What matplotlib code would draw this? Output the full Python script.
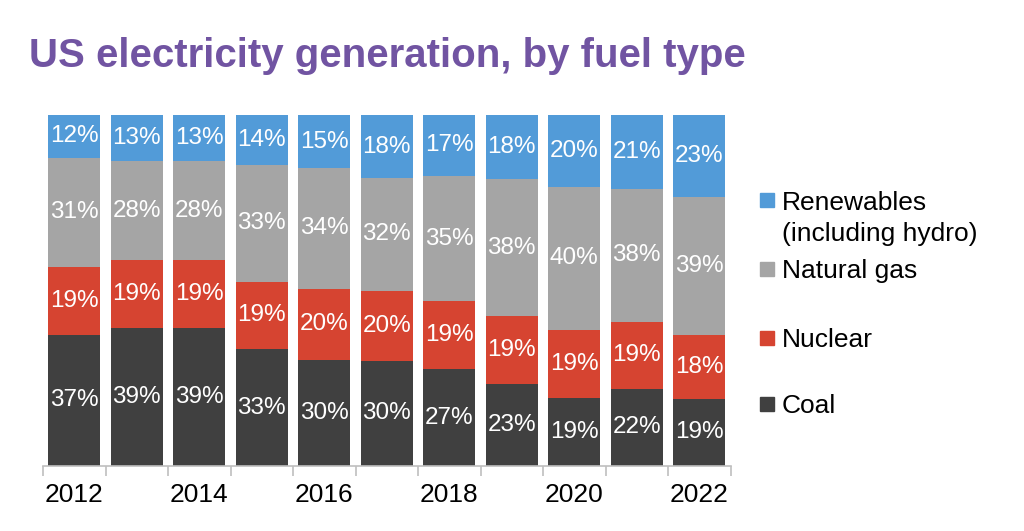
import matplotlib
matplotlib.use("Agg")
import matplotlib.pyplot as plt
import numpy as np
from matplotlib.patches import Rectangle

plt.rcParams['font.family'] = ['Liberation Sans', 'DejaVu Sans']

years = [2012, 2013, 2014, 2015, 2016, 2017, 2018, 2019, 2020, 2021, 2022]
coal = [37, 39, 39, 33, 30, 30, 27, 23, 19, 22, 19]
nuclear = [19, 19, 19, 19, 20, 20, 19, 19, 19, 19, 18]
gas = [31, 28, 28, 33, 34, 32, 35, 38, 40, 38, 39]
renewables = [12, 13, 13, 14, 15, 18, 17, 18, 20, 21, 23]
tick_years = [2012, 2014, 2016, 2018, 2020, 2022]

series = [
    ("Coal", coal, "#404040"),
    ("Nuclear", nuclear, "#D64431"),
    ("Natural gas", gas, "#A5A5A5"),
    ("Renewables\n(including hydro)", renewables, "#529BD8"),
]

fig = plt.figure(figsize=(10.24, 5.31), dpi=100)
ax = fig.add_axes([43/1024, 1-466/531, (730.5-43)/1024, (466-115)/531])

x = np.arange(len(years))
totals = np.sum([s[1] for s in series], axis=0)
bottom = np.zeros(len(years))
for name, vals, col in series:
    frac = np.array(vals) / totals
    ax.bar(x, frac, width=0.83, bottom=bottom, color=col, edgecolor='none')
    for xi, b, f, v in zip(x, bottom, frac, vals):
        ax.text(xi, b + f/2, f"{v}%", ha='center', va='center',
                color='white', fontsize=17.5)
    bottom += frac

ax.set_xlim(-0.5, len(years)-0.5)
ax.set_ylim(0, 1)
for s in ['top', 'right', 'left']:
    ax.spines[s].set_visible(False)
ax.spines['bottom'].set_color('#BFBFBF')
ax.spines['bottom'].set_linewidth(1.2)
ax.set_yticks([])
ax.set_xticks([years.index(t) for t in tick_years])
ax.set_xticklabels([str(t) for t in tick_years], fontsize=19, color='black')
ax.tick_params(axis='x', which='major', length=0, pad=12)
ax.set_xticks(np.arange(-0.5, len(years), 1.0), minor=True)
ax.tick_params(axis='x', which='minor', length=7, color='#BFBFBF', width=1.2)

fig.text(29/1024, 1-67/531, "US electricity generation, by fuel type",
         fontsize=29, fontweight='bold', color='#7154A2', ha='left', va='baseline')

# legend (manual)
leg_items = list(reversed(series))
centers = [200, 268.5, 337.5, 403.5]
for (name, vals, col), cy in zip(leg_items, centers):
    fig.patches.append(Rectangle((760/1024, 1-(cy+7)/531), 14/1024, 14/531,
                                 transform=fig.transFigure, color=col, figure=fig))
    lines = name.split("\n")
    for i, ln in enumerate(lines):
        fig.text(782/1024, 1-(cy+9.5+32*i)/531, ln, fontsize=19,
                 color='black', ha='left', va='baseline')

fig.savefig("out.png", dpi=100)
